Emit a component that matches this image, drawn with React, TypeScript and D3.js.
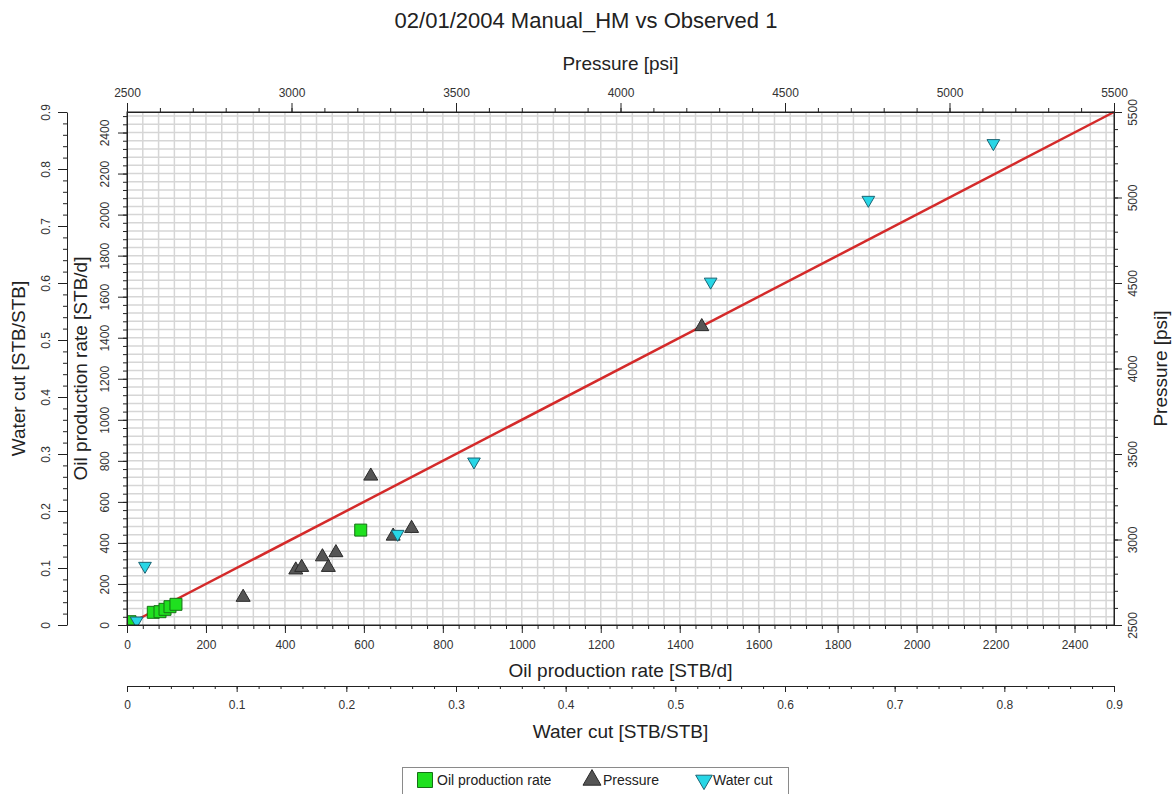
import React, { useEffect, useRef } from 'react'
import * as d3 from 'd3'

// observed (x) vs simulated (y) values
const oilObserved = [7.6, 66.6, 83.6, 96.3, 108.9, 124, 592]
const oilSimulated = [16, 61.8, 64.8, 76.4, 89.1, 100.8, 462.5]
const pressureObserved = [2853, 3013, 3031, 3094, 3112, 3135, 3241, 3309, 3365, 4247]
const pressureSimulated = [2662, 2822, 2837, 2899, 2837, 2923, 3371, 3020, 3065, 4245]
const waterCutObserved = [0.0088, 0.0164, 0.2468, 0.3164, 0.5322, 0.676, 0.79]
const waterCutSimulated = [0.0075, 0.1035, 0.1596, 0.2865, 0.6021, 0.7456, 0.8451]

const oilDomain = [0, 2500]
const pressureDomain = [2500, 5500]
const waterCutDomain = [0, 0.9]

const oilMajor = d3.range(0, 2401, 200)
const oilMinor = d3.range(0, 2500, 40)
const pressureMajor = d3.range(2500, 5501, 500)
const pressureMinor = d3.range(2500, 5500, 100)
const waterCutMajor = d3.range(0, 10).map(i => i / 10)
const waterCutMinor = d3.range(0, 46).map(i => i / 50)

const title = '02/01/2004 Manual_HM vs Observed 1'
const legendLabels = ['Oil production rate', 'Pressure', 'Water cut']

const W = 1172, H = 794
const plot = { left: 127, right: 1114, top: 112, bottom: 625 }
const FONT = 'Liberation Sans, Arial, sans-serif'

export default function App() {
  const ref = useRef<SVGSVGElement>(null)

  useEffect(() => {
    const svg = d3.select(ref.current)
    svg.selectAll('*').remove()

    const xOil = d3.scaleLinear().domain(oilDomain).range([plot.left, plot.right])
    const yOil = d3.scaleLinear().domain(oilDomain).range([plot.bottom, plot.top])
    const xP = d3.scaleLinear().domain(pressureDomain).range([plot.left, plot.right])
    const yP = d3.scaleLinear().domain(pressureDomain).range([plot.bottom, plot.top])
    const xWc = d3.scaleLinear().domain(waterCutDomain).range([plot.left, plot.right])
    const yWc = d3.scaleLinear().domain(waterCutDomain).range([plot.bottom, plot.top])

    svg.append('defs').append('clipPath').attr('id', 'plotclip')
      .append('rect')
      .attr('x', plot.left).attr('y', plot.top)
      .attr('width', plot.right - plot.left).attr('height', plot.bottom - plot.top)

    // grid
    const grid = svg.append('g').attr('stroke', '#d6d6d6').attr('stroke-width', 1.5)
    grid.selectAll('.vg').data(oilMinor.slice(1)).enter().append('line')
      .attr('x1', d => xOil(d)).attr('x2', d => xOil(d))
      .attr('y1', plot.top).attr('y2', plot.bottom)
    grid.selectAll('.hg').data(oilMinor.slice(1)).enter().append('line')
      .attr('y1', d => yOil(d)).attr('y2', d => yOil(d))
      .attr('x1', plot.left).attr('x2', plot.right)

    // 1:1 line
    const line = d3.line<number>().x(d => xOil(d)).y(d => yOil(d))
    svg.append('path').datum(oilDomain)
      .attr('d', line)
      .attr('fill', 'none').attr('stroke', '#d42a2a').attr('stroke-width', 2.5)

    const marks = svg.append('g').attr('clip-path', 'url(#plotclip)')

    marks.selectAll('.oil').data(oilObserved).enter().append('path')
      .attr('d', d3.symbol().type(d3.symbolSquare).size(144)())
      .attr('transform', (d, i) => `translate(${xOil(d)},${yOil(oilSimulated[i])})`)
      .attr('fill', '#1fe01f').attr('stroke', '#157015').attr('stroke-width', 1)

    marks.selectAll('.pres').data(pressureObserved).enter().append('path')
      .attr('d', d3.symbol().type(d3.symbolTriangle).size(85)())
      .attr('transform', (d, i) => `translate(${xP(d)},${yP(pressureSimulated[i])})`)
      .attr('fill', '#555').attr('stroke', '#2a2a2a').attr('stroke-width', 1)

    marks.selectAll('.wc').data(waterCutObserved).enter().append('path')
      .attr('d', d3.symbol().type(d3.symbolTriangle).size(70)())
      .attr('transform', (d, i) => `translate(${xWc(d)},${yWc(waterCutSimulated[i])}) rotate(180)`)
      .attr('fill', '#27d6e6').attr('stroke', '#1b6474').attr('stroke-width', 1)

    // frame
    svg.append('rect')
      .attr('x', plot.left).attr('y', plot.top)
      .attr('width', plot.right - plot.left).attr('height', plot.bottom - plot.top)
      .attr('fill', 'none').attr('stroke', '#222').attr('stroke-width', 1)

    const style = (g: any) => {
      g.selectAll('line').attr('stroke', '#222')
      g.selectAll('.domain').attr('stroke', '#222')
      g.selectAll('text').attr('font-family', FONT).attr('font-size', 12).attr('fill', '#333')
    }
    const minor = (g: any) => { g.select('.domain').remove(); g.selectAll('line').attr('stroke', '#222') }
    const fmtWc = (d: any) => String(+(+d).toFixed(1))
    const rotateLabels = (g: any, off: number) => {
      g.selectAll('text')
        .attr('x', 0).attr('y', off).attr('dy', '0.35em')
        .attr('text-anchor', 'middle').attr('transform', 'rotate(-90)')
    }

    // top: pressure
    svg.append('g').attr('transform', `translate(0,${plot.top})`)
      .call(d3.axisTop(xP).tickValues(pressureMinor).tickSize(4).tickFormat(() => '')).call(minor)
    svg.append('g').attr('transform', `translate(0,${plot.top})`)
      .call(d3.axisTop(xP).tickValues(pressureMajor).tickSize(9).tickSizeOuter(0).tickPadding(6).tickFormat(d3.format('d'))).call(style)

    // right: pressure
    svg.append('g').attr('transform', `translate(${plot.right},0)`)
      .call(d3.axisRight(yP).tickValues(pressureMinor).tickSize(4).tickFormat(() => '')).call(minor)
    svg.append('g').attr('transform', `translate(${plot.right},0)`)
      .call(d3.axisRight(yP).tickValues(pressureMajor).tickSize(8).tickSizeOuter(0).tickFormat(d3.format('d')))
      .call(style).call((g: any) => rotateLabels(g, 19))

    // left inner: oil rate
    svg.append('g').attr('transform', `translate(${plot.left},0)`)
      .call(d3.axisLeft(yOil).tickValues(oilMinor).tickSize(4).tickFormat(() => '')).call(minor)
    svg.append('g').attr('transform', `translate(${plot.left},0)`)
      .call(d3.axisLeft(yOil).tickValues(oilMajor).tickSize(9).tickSizeOuter(0).tickFormat(d3.format('d')))
      .call(style).call((g: any) => rotateLabels(g, -22))

    // left outer: water cut
    svg.append('g').attr('transform', 'translate(67,0)')
      .call(d3.axisLeft(yWc).tickValues(waterCutMinor).tickSize(4).tickFormat(() => '')).call(minor)
    svg.append('g').attr('transform', 'translate(67,0)')
      .call(d3.axisLeft(yWc).tickValues(waterCutMajor).tickSize(9).tickSizeOuter(0).tickFormat(fmtWc))
      .call(style).call((g: any) => rotateLabels(g, -21))

    // bottom inner: oil rate
    svg.append('g').attr('transform', `translate(0,${plot.bottom})`)
      .call(d3.axisBottom(xOil).tickValues(oilMinor).tickSize(4).tickFormat(() => '')).call(minor)
    svg.append('g').attr('transform', `translate(0,${plot.bottom})`)
      .call(d3.axisBottom(xOil).tickValues(oilMajor).tickSize(8).tickSizeOuter(0).tickPadding(7).tickFormat(d3.format('d'))).call(style)

    // bottom outer: water cut
    svg.append('g').attr('transform', 'translate(0,686)')
      .call(d3.axisBottom(xWc).tickValues(waterCutMinor).tickSize(3).tickFormat(() => '')).call(minor)
    svg.append('g').attr('transform', 'translate(0,686)')
      .call(d3.axisBottom(xWc).tickValues(waterCutMajor).tickSize(6).tickSizeOuter(0).tickPadding(8).tickFormat(fmtWc)).call(style)

    // titles
    const txt = (x: number, y: number, s: string, size: number, rot = false) =>
      svg.append('text')
        .attr('transform', `translate(${x},${y})${rot ? ' rotate(-90)' : ''}`)
        .attr('text-anchor', 'middle').attr('dy', '0.35em')
        .attr('font-family', FONT).attr('font-size', size).attr('fill', '#222')
        .text(s)
    const cx = (plot.left + plot.right) / 2
    const cy = (plot.top + plot.bottom) / 2
    txt(W / 2, 20, title, 22)
    txt(cx, 63, 'Pressure [psi]', 19)
    txt(cx, 670, 'Oil production rate [STB/d]', 19)
    txt(cx, 731, 'Water cut [STB/STB]', 19)
    txt(18, cy, 'Water cut [STB/STB]', 19, true)
    txt(80, cy, 'Oil production rate [STB/d]', 19, true)
    txt(1160, cy, 'Pressure [psi]', 19, true)

    // legend
    const lg = svg.append('g')
    lg.append('rect').attr('x', 402.5).attr('y', 767.5).attr('width', 386).attr('height', 40)
      .attr('fill', '#fff').attr('stroke', '#8a8a8a')
    const items = [
      { x: 416, sym: d3.symbolSquare, size: 225, rot: 0, fill: '#1fe01f', stroke: '#157015', tx: 437 },
      { x: 583, sym: d3.symbolTriangle, size: 140, rot: 0, fill: '#555', stroke: '#2a2a2a', tx: 603 },
      { x: 695, sym: d3.symbolTriangle, size: 120, rot: 180, fill: '#27d6e6', stroke: '#1b6474', tx: 713 },
    ]
    lg.selectAll('.li').data(items).enter().append('path')
      .attr('d', d => d3.symbol().type(d.sym).size(d.size)())
      .attr('transform', d => `translate(${d.x + 9},${780}) rotate(${d.rot})`)
      .attr('fill', d => d.fill).attr('stroke', d => d.stroke)
    lg.selectAll('.lt').data(items).enter().append('text')
      .attr('x', d => d.tx).attr('y', 780).attr('dy', '0.35em')
      .attr('font-family', FONT).attr('font-size', 14).attr('fill', '#222')
      .text((d, i) => legendLabels[i])
  }, [])

  return (
    <svg ref={ref} width={W} height={H}
      style={{ position: 'absolute', left: 0, top: 0, background: '#fff' }} />
  )
}
